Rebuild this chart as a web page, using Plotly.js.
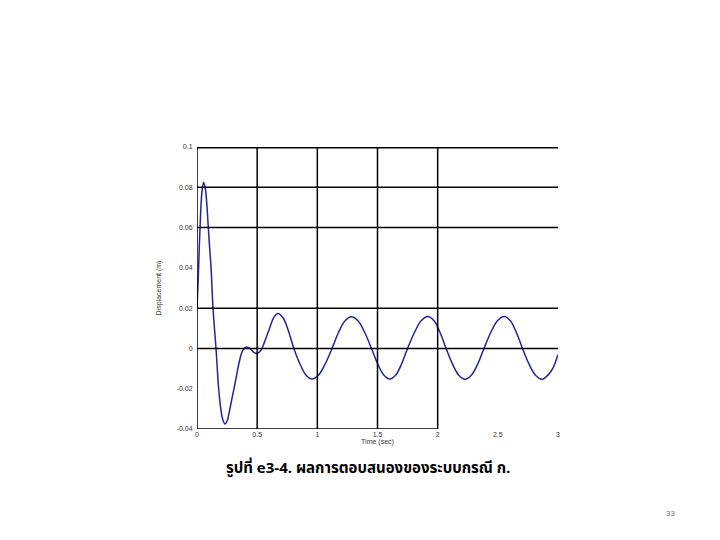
<!DOCTYPE html>
<html>
<head>
<meta charset="utf-8">
<script src="https://cdn.plot.ly/plotly-3.0.1.min.js"></script>
<style>html,body{margin:0;padding:0;background:#fff;}#chart{width:720px;height:540px;}</style>
</head>
<body>
<div id="chart"></div>
<script>
// Time (s) and displacement (m)
const timeSec = [0, 0.01, 0.02, 0.03, 0.04, 0.055, 0.07, 0.08, 0.094, 0.105, 0.117, 0.133, 0.158, 0.18, 0.2, 0.215, 0.233, 0.25, 0.27, 0.29, 0.311, 0.33, 0.35, 0.38, 0.41, 0.44, 0.47, 0.5, 0.53,
  0.56, 0.6, 0.64, 0.672, 0.716, 0.76, 0.805, 0.855, 0.905, 0.955, 1.011, 1.066, 1.122, 1.176, 1.229, 1.283, 1.339, 1.394, 1.45, 1.501, 1.552, 1.603, 1.652, 1.701, 1.75, 1.807, 1.863, 1.92, 1.97, 2.02, 2.07, 2.123, 2.175, 2.228, 2.28, 2.333, 2.385, 2.441, 2.497, 2.553, 2.604, 2.654, 2.705, 2.759, 2.813, 2.867, 2.92, 2.96, 3.0];
const displacement = [0.020, 0.034, 0.052, 0.067, 0.077, 0.0825, 0.079, 0.073, 0.060, 0.050, 0.040, 0.020, 0.000, -0.020, -0.031, -0.0355, -0.0375, -0.036, -0.031, -0.025, -0.019, -0.013, -0.007, -0.001, 0.0007, 0.0, -0.0018, -0.0025, -0.001,
  0.003, 0.0095, 0.0155, 0.0174, 0.0151, 0.0087, 0.0, -0.0076, -0.0132, -0.0152, -0.0132, -0.0076, 0.0, 0.0079, 0.0136, 0.0157, 0.0136, 0.0079, 0.0, -0.0076, -0.0132, -0.0152, -0.0132, -0.0076, 0.0, 0.0079, 0.0137, 0.0158, 0.0137, 0.0079, 0.0, -0.0077, -0.0133, -0.0153, -0.0133, -0.0077, 0.0, 0.0079, 0.0137, 0.0158, 0.0137, 0.0079, 0.0, -0.0077, -0.0133, -0.0153, -0.013, -0.0095, -0.003];

const xTickVals = [0, 0.5, 1, 1.5, 2, 2.5, 3];
const xTickText = ['0', '0.5', '1', '1.5', '2', '2.5', '3'];
const yTickVals = [0.1, 0.08, 0.06, 0.04, 0.02, 0, -0.02, -0.04];
const yTickText = ['0.1', '0.08', '0.06', '0.04', '0.02', '0', '-0.02', '-0.04'];
const gridX = [0.5, 1, 1.5, 2];
const gridY = [0.08, 0.06, 0.02, 0];

const shapes = [];
gridX.forEach(v => shapes.push({type: 'line', xref: 'x', yref: 'y', x0: v, x1: v, y0: -0.04, y1: 0.1, line: {color: '#000', width: 1.5}}));
gridY.forEach(v => shapes.push({type: 'line', xref: 'x', yref: 'y', x0: 0, x1: 3, y0: v, y1: v, line: {color: '#000', width: 1.5}}));
shapes.push({type: 'line', xref: 'x', yref: 'y', x0: 0, x1: 3, y0: 0.1, y1: 0.1, line: {color: '#000', width: 3}});
shapes.push({type: 'line', xref: 'x', yref: 'y', x0: 0, x1: 0, y0: -0.04, y1: 0.1, line: {color: '#000', width: 1.5}});
shapes.push({type: 'line', xref: 'x', yref: 'y', x0: 0, x1: 2, y0: -0.04, y1: -0.04, line: {color: '#000', width: 1.5}});

const trace = {
  x: timeSec, y: displacement, type: 'scatter', mode: 'lines',
  line: {color: '#23239b', width: 1.5, shape: 'spline', smoothing: 1},
  hoverinfo: 'skip'
};

const layout = {
  width: 720, height: 540,
  paper_bgcolor: '#fff', plot_bgcolor: '#fff',
  margin: {l: 197, r: 162, t: 147, b: 111, pad: 0},
  showlegend: false,
  font: {family: 'Liberation Sans, Arial, sans-serif', size: 7, color: '#333'},
  xaxis: {
    range: [0, 3], tickvals: xTickVals, ticktext: xTickText, showgrid: false, zeroline: false,
    showline: false, ticks: '', tickfont: {size: 7, color: '#333'},
    title: {text: 'Time (sec)', font: {size: 7, color: '#333'}, standoff: 0}
  },
  yaxis: {
    range: [-0.04, 0.1], tickvals: yTickVals, ticktext: yTickText, showgrid: false, zeroline: false,
    showline: false, ticks: 'outside', ticklen: 2, tickcolor: 'rgba(0,0,0,0)', tickfont: {size: 7, color: '#333'},
    title: {text: 'Displacement (m)', font: {size: 7, color: '#333'}, standoff: 14}
  },
  shapes: shapes,
  annotations: [
    {text: '<b>รูปที่ e3-4. ผลการตอบสนองของระบบกรณี ก.</b>', xref: 'paper', yref: 'paper', x: 0.474, y: -0.14,
     showarrow: false, xanchor: 'center', yanchor: 'middle', font: {family: 'Noto Sans Thai, Tahoma, DejaVu Sans, sans-serif', size: 15, color: '#000'}},
    {text: '33', xref: 'paper', yref: 'paper', x: 1.313, y: -0.301, showarrow: false, xanchor: 'center', yanchor: 'middle',
     font: {family: 'Liberation Sans, Arial, sans-serif', size: 8, color: '#777'}}
  ]
};

Plotly.newPlot('chart', [trace], layout, {staticPlot: true, displayModeBar: false});
</script>
</body>
</html>
